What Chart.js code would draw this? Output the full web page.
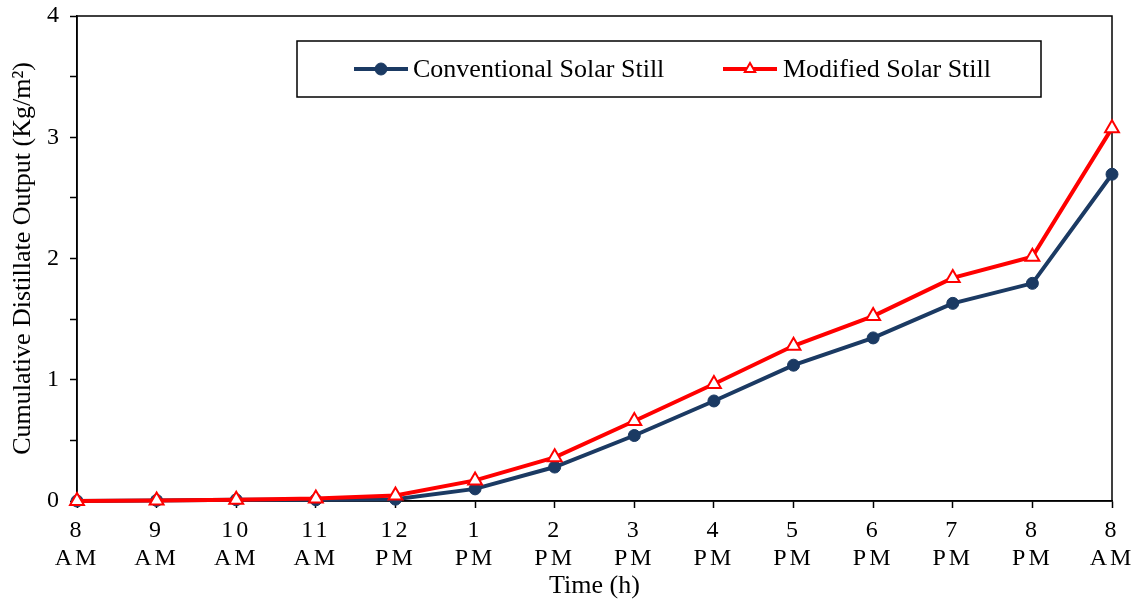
<!DOCTYPE html>
<html>
<head>
<meta charset="utf-8">
<script src="https://cdn.jsdelivr.net/npm/chart.js@4/dist/chart.umd.min.js"></script>
<style>
  html, body { margin: 0; padding: 0; background: #fff; }
  #wrap { width: 1131px; height: 604px; position: relative; }
</style>
</head>
<body>
<div id="wrap"><canvas id="c"></canvas></div>
<script>
// Hour of day for each reading
const hours = [
  ['8', 'AM'], ['9', 'AM'], ['10', 'AM'], ['11', 'AM'], ['12', 'PM'],
  ['1', 'PM'], ['2', 'PM'], ['3', 'PM'], ['4', 'PM'], ['5', 'PM'],
  ['6', 'PM'], ['7', 'PM'], ['8', 'PM'], ['8', 'AM']
];

// Cumulative distillate output, kg/m²
const conventionalStill = [0.0, 0.005, 0.01, 0.01, 0.015, 0.10, 0.28, 0.54, 0.825, 1.12, 1.345, 1.63, 1.795, 2.695];
const modifiedStill     = [0.0, 0.005, 0.01, 0.02, 0.045, 0.17, 0.36, 0.66, 0.965, 1.28, 1.525, 1.84, 2.015, 3.075];

const seriesNames = ['Conventional Solar Still', 'Modified Solar Still'];
const yTickValues = [0, 1, 2, 3, 4];

const NAVY = '#1b3a63';
const RED = '#ff0000';
const SERIF = '"Liberation Serif", "Times New Roman", serif';

// Frame around the plotting area (top and right edges as well)
const frame = {
  id: 'frame',
  beforeDatasetsDraw(chart) {
    const { ctx, chartArea: a } = chart;
    ctx.save();
    ctx.strokeStyle = '#000';
    ctx.lineWidth = 1.5;
    ctx.strokeRect(a.left, a.top, a.right - a.left, a.bottom - a.top);
    ctx.restore();
  }
};

// Wider spacing between characters of the hour labels
const spacedHourLabels = {
  id: 'spacedHourLabels',
  beforeDraw(chart) {
    const s = chart.scales.x;
    if (s && !s._spaced) {
      const orig = s.drawLabels;
      s.drawLabels = function (area) {
        const c = this.ctx;
        const prev = c.letterSpacing;
        c.letterSpacing = '3px';
        orig.call(this, area);
        c.letterSpacing = prev;
      };
      s._spaced = true;
    }
  }
};

// Boxed legend inside the plot
const boxedLegend = {
  id: 'boxedLegend',
  afterDraw(chart) {
    const { ctx } = chart;
    const box = { x: 297, y: 41, w: 744, h: 56 };
    const cy = box.y + box.h / 2;
    ctx.save();
    ctx.strokeStyle = '#000';
    ctx.lineWidth = 1.5;
    ctx.strokeRect(box.x, box.y, box.w, box.h);

    const items = [
      { ds: chart.data.datasets[0], x0: 354, textX: 413, r: 6 },
      { ds: chart.data.datasets[1], x0: 723, textX: 783, r: 6 }
    ];
    items.forEach(it => {
      const ds = it.ds;
      ctx.strokeStyle = ds.borderColor;
      ctx.lineWidth = 4;
      ctx.beginPath();
      ctx.moveTo(it.x0, cy);
      ctx.lineTo(it.x0 + 54, cy);
      ctx.stroke();
      ctx.fillStyle = ds.pointBackgroundColor;
      ctx.strokeStyle = ds.pointBorderColor;
      ctx.lineWidth = ds.pointBorderWidth;
      Chart.helpers.drawPoint(ctx, {
        pointStyle: ds.pointStyle, radius: it.r, rotation: 0, borderWidth: ds.pointBorderWidth
      }, it.x0 + 27, cy);
      ctx.fillStyle = '#000';
      ctx.font = '26px ' + SERIF;
      ctx.textAlign = 'left';
      ctx.textBaseline = 'middle';
      ctx.fillText(ds.label, it.textX, cy + 1);
    });
    ctx.restore();
  }
};

new Chart(document.getElementById('c'), {
  type: 'line',
  data: {
    labels: hours,
    datasets: [
      {
        label: seriesNames[0],
        data: conventionalStill,
        borderColor: NAVY,
        backgroundColor: NAVY,
        borderWidth: 4,
        pointStyle: 'circle',
        pointRadius: 6,
        pointBackgroundColor: NAVY,
        pointBorderColor: NAVY,
        pointBorderWidth: 1,
        tension: 0,
        clip: false,
        order: 1
      },
      {
        label: seriesNames[1],
        data: modifiedStill,
        borderColor: RED,
        backgroundColor: RED,
        borderWidth: 4,
        pointStyle: 'triangle',
        pointRadius: 8,
        pointBackgroundColor: '#ffffff',
        pointBorderColor: RED,
        pointBorderWidth: 2,
        tension: 0,
        clip: false,
        order: 0
      }
    ]
  },
  options: {
    responsive: true,
    maintainAspectRatio: false,
    animation: false,
    devicePixelRatio: 1,
    layout: { padding: { top: 16, right: 19, left: 0, bottom: 0 } },
    plugins: {
      legend: { display: false },
      tooltip: { enabled: false }
    },
    scales: {
      x: {
        type: 'category',
        offset: false,
        grid: {
          display: true,
          drawOnChartArea: false,
          drawTicks: true,
          tickLength: 7,
          tickWidth: 1.5,
          color: '#000'
        },
        border: { display: true, color: '#000', width: 1.5 },
        ticks: {
          color: '#000',
          font: { family: SERIF, size: 24, lineHeight: 1.15 },
          padding: 9,
          maxRotation: 0,
          autoSkip: false
        },
        title: {
          display: true,
          text: 'Time (h)',
          color: '#000',
          font: { family: SERIF, size: 26, lineHeight: 1.2 },
          padding: { top: 0, bottom: 2 }
        },
        afterFit(scale) {
          scale.height = 103;
          scale.paddingLeft = 0;
          scale.paddingRight = 0;
        }
      },
      y: {
        min: 0,
        max: 4,
        grid: {
          display: true,
          drawOnChartArea: false,
          drawTicks: true,
          tickLength: 7,
          tickWidth: 1.5,
          color: '#000'
        },
        border: { display: true, color: '#000', width: 1.5 },
        ticks: {
          stepSize: 0.5,
          color: '#000',
          font: { family: SERIF, size: 24 },
          padding: 11,
          callback: v => (yTickValues.includes(v) ? String(v) : '')
        },
        title: {
          display: true,
          text: 'Cumulative Distillate Output (Kg/m²)',
          color: '#000',
          font: { family: SERIF, size: 26, lineHeight: 1.2 },
          padding: { top: 8, bottom: 0 }
        },
        afterFit(scale) {
          scale.width = 77;
          scale.paddingTop = 0;
          scale.paddingBottom = 0;
        }
      }
    }
  },
  plugins: [frame, spacedHourLabels, boxedLegend]
});
</script>
</body>
</html>
